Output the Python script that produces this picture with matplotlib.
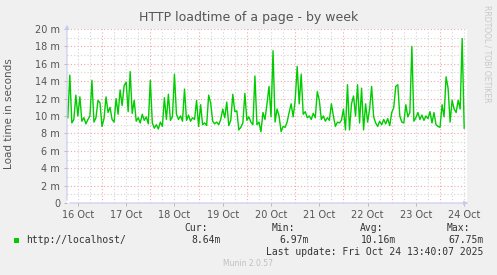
import numpy as np
import matplotlib
matplotlib.use("Agg")
import matplotlib.pyplot as plt

# load time in ms, one value per hour, starting Oct 16 07:00
load_ms = [
    # 16 Oct (07h - 23h)
    9.8, 14.7, 9.2, 9.6, 12.4, 10.0, 12.2, 9.4, 9.8, 9.1, 9.6, 10.0, 14.1, 9.3, 9.8, 11.8, 11.5,
    # 17 Oct
    8.8, 9.7, 12.2, 10.4, 11.0, 9.6, 9.3, 12.0, 10.2, 13.0, 11.2, 13.5, 13.9, 10.5, 15.1, 10.3,
    11.8, 9.4, 9.8, 9.2, 10.2, 9.5, 9.9, 9.1,
    # 18 Oct
    14.1, 9.2, 8.6, 9.0, 8.5, 9.3, 8.8, 12.1, 9.6, 12.5, 9.5, 9.9, 14.8, 10.2, 9.6, 10.0,
    9.4, 13.1, 9.5, 10.1, 9.4, 9.8, 9.6, 11.8,
    # 19 Oct
    8.8, 11.3, 9.0, 9.2, 8.9, 12.4, 11.5, 9.4, 9.1, 9.3, 9.0, 9.6, 10.8, 9.8, 11.6, 8.9,
    9.5, 12.5, 10.5, 10.6, 8.4, 8.7, 9.2, 12.6,
    # 20 Oct
    9.5, 9.9, 9.3, 9.0, 14.6, 9.0, 9.3, 8.2, 10.4, 9.6, 11.4, 13.4, 9.9, 17.5, 9.3, 10.8,
    10.0, 8.2, 8.8, 8.7, 9.3, 10.4, 11.4, 9.9,
    # 21 Oct
    11.8, 15.7, 11.4, 14.8, 10.2, 10.5, 9.8, 10.0, 9.6, 10.3, 9.8, 12.8, 11.8, 9.6, 10.0, 9.4,
    9.8, 9.5, 11.4, 10.0, 8.8, 9.3, 9.2, 9.5,
    # 22 Oct
    10.8, 8.4, 13.6, 8.4, 11.4, 12.3, 10.0, 13.6, 9.2, 13.2, 8.4, 11.4, 9.3, 10.8, 13.4, 9.9,
    9.2, 8.8, 9.4, 9.0, 9.6, 9.1, 9.7, 8.9,
    # 23 Oct
    10.4, 11.0, 13.4, 13.6, 10.0, 9.3, 9.2, 11.3, 9.9, 10.4, 18.0, 9.4, 9.8, 10.4, 9.6, 10.1,
    9.5, 10.0, 9.7, 10.5, 9.2, 10.4, 9.0, 8.8,
    # 24 Oct (00h - 12h)
    8.7, 11.3, 9.9, 14.5, 13.2, 9.3, 11.8, 10.8, 10.4, 11.8, 10.8, 18.9, 8.6,
]
first_hour = 7  # hours after Oct 16 00:00
day_labels = ["16 Oct", "17 Oct", "18 Oct", "19 Oct", "20 Oct", "21 Oct", "22 Oct", "23 Oct", "24 Oct"]
y_ticks = [0, 2, 4, 6, 8, 10, 12, 14, 16, 18, 20]
legend_name = "http://localhost/"
stats = [("Cur:", "8.64m"), ("Min:", "6.97m"), ("Avg:", "10.16m"), ("Max:", "67.75m")]
last_update = "Last update: Fri Oct 24 13:40:07 2025"

hours = first_hour + np.arange(len(load_ms))

W, H = 497, 275
fig = plt.figure(figsize=(W / 100, H / 100), dpi=100, facecolor="#F0F0F0")
x0, x1, y0, y1 = 67, 467, 29, 203
ax = fig.add_axes([x0 / W, 1 - y1 / H, (x1 - x0) / W, (y1 - y0) / H])
ax.set_facecolor("white")
xmin, xmax = 6.6, 205.4
ax.set_xlim(xmin, xmax)
ax.set_ylim(0, 20)

txt = "#555555"
major = "#F0A8A8"
minor = "#D4D4D4"

# grid
for v in range(0, 21):
    ax.axhline(v, color=major if v % 2 == 0 else minor, lw=0.8, ls=(0, (1, 2)), zorder=1)
for h in range(0, 210, 6):
    if xmin < h < xmax:
        ax.axvline(h, color=major if h % 24 == 0 else minor, lw=0.8, ls=(0, (1, 2)), zorder=1)

ax.plot(hours, load_ms, color="#00CC00", lw=1.0, zorder=3)

for s in ax.spines.values():
    s.set_visible(False)
ax.set_yticks(y_ticks)
ax.set_yticklabels([("%d m" % v) if v else "0" for v in y_ticks])
ax.set_xticks([12 + 24 * i for i in range(len(day_labels))])
ax.set_xticklabels(day_labels)
ax.tick_params(axis="both", colors="#B0B0B0", labelcolor=txt, labelsize=7, length=2, width=0.6, pad=3)

# axes with arrows
ax.annotate("", xy=(1.01, 0), xytext=(0, 0), xycoords="axes fraction",
            arrowprops=dict(arrowstyle="-|>", color="#C8C8F0", lw=0.8, mutation_scale=6), zorder=4)
ax.annotate("", xy=(0, 1.04), xytext=(0, 0), xycoords="axes fraction",
            arrowprops=dict(arrowstyle="-|>", color="#C8C8F0", lw=0.8, mutation_scale=6), zorder=4)

fig.text(248.5 / W, 1 - 18 / H, "HTTP loadtime of a page - by week", ha="center", va="center",
         fontsize=9, color=txt)
fig.text(9 / W, 1 - 114 / H, "Load time in seconds", rotation=90, ha="center", va="center",
         fontsize=7.5, color=txt)
fig.text(487 / W, 1 - 5 / H, "RRDTOOL / TOBI OETIKER", rotation=270, ha="center", va="top",
         fontsize=5.5, color="#C8C8C8")

mono = dict(family="DejaVu Sans Mono", fontsize=7, color="#333333", va="center")
fig.patches.append(plt.Rectangle((14 / W, 1 - 243 / H), 5 / W, 5 / H, transform=fig.transFigure,
                                 facecolor="#00CC00", edgecolor="none"))
fig.text(26 / W, 1 - 240 / H, legend_name, ha="left", **mono)
for i, (lab, val) in enumerate(stats):
    xr = 221 + i * 87.5
    fig.text((xr - 13) / W, 1 - 228 / H, lab, ha="right", **mono)
    fig.text(xr / W, 1 - 240 / H, val, ha="right", **mono)
fig.text(483 / W, 1 - 252 / H, last_update, ha="right", **mono)
fig.text(248 / W, 1 - 264 / H, "Munin 2.0.57", ha="center", va="center", fontsize=5.5, color="#C0C0C0")

fig.savefig("out.png", dpi=100, facecolor=fig.get_facecolor())
